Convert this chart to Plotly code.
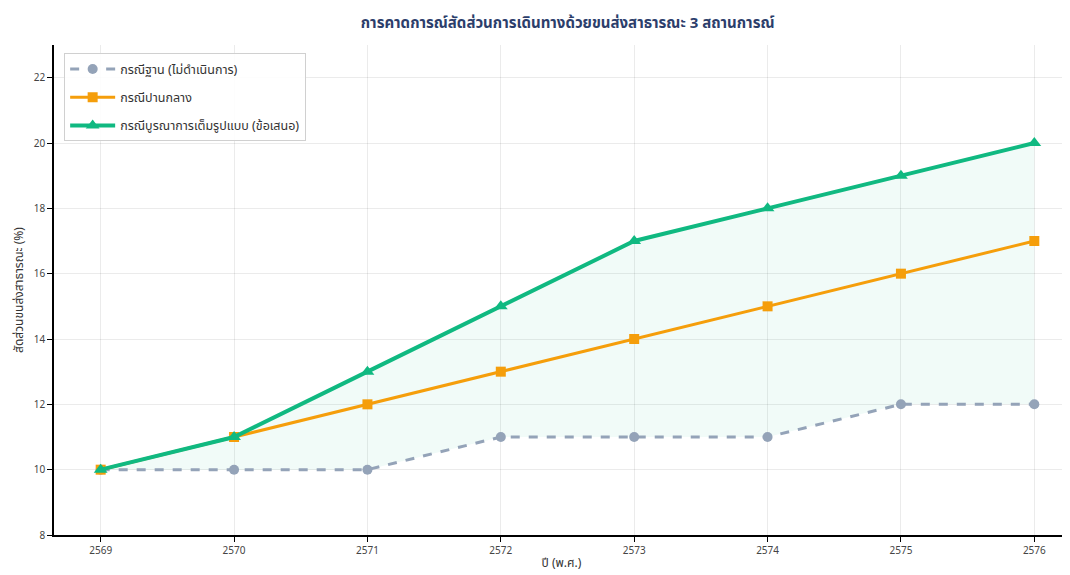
import plotly.graph_objects as go

years = [2569, 2570, 2571, 2572, 2573, 2574, 2575, 2576]
base = [10, 10, 10, 11, 11, 11, 12, 12]
medium = [10, 11, 12, 13, 14, 15, 16, 17]
full = [10, 11, 13, 15, 17, 18, 19, 20]
names = ["กรณีฐาน (ไม่ดำเนินการ)", "กรณีปานกลาง", "กรณีบูรณาการเต็มรูปแบบ (ข้อเสนอ)"]
title = "การคาดการณ์สัดส่วนการเดินทางด้วยขนส่งสาธารณะ 3 สถานการณ์"
ytitle = "สัดส่วนขนส่งสาธารณะ (%)"
xtitle = "ปี (พ.ศ.)"

FONT = "Noto Sans, Noto Sans Thai, DejaVu Sans, sans-serif"

fig = go.Figure()
# fill between base and full
fig.add_trace(go.Scatter(x=years, y=base, mode="lines", line=dict(width=0),
                         showlegend=False, hoverinfo="skip"))
fig.add_trace(go.Scatter(x=years, y=full, mode="lines", line=dict(width=0),
                         fill="tonexty", fillcolor="rgba(16,185,129,0.06)",
                         showlegend=False, hoverinfo="skip"))

fig.add_trace(go.Scatter(x=years, y=base, name=names[0], mode="lines+markers",
                         legendgroup="a",
                         line=dict(color="#94a3b8", width=3, dash="dash"),
                         marker=dict(symbol="circle", size=10, color="#94a3b8")))
fig.add_trace(go.Scatter(x=years, y=medium, name=names[1], mode="lines+markers",
                         legendgroup="b",
                         line=dict(color="#f59e0b", width=3),
                         marker=dict(symbol="square", size=10, color="#f59e0b")))
fig.add_trace(go.Scatter(x=years, y=full, name=names[2], mode="lines+markers",
                         legendgroup="c",
                         line=dict(color="#10b981", width=4),
                         marker=dict(symbol="triangle-up", size=12, color="#10b981")))

# page is rendered with an 8px body margin, so offsets account for it
fig.update_layout(
    width=1070, height=575,
    margin=dict(l=46, r=9, t=37, b=48, autoexpand=False),
    paper_bgcolor="white", plot_bgcolor="white",
    font=dict(family=FONT, size=11, color="#333"),
    title=dict(text=f"<b>{title}</b>", x=0.523, xanchor="center", y=0.975, yanchor="middle",
               font=dict(size=15, color="#2c3e6b")),
    legend=dict(x=0.01, y=0.983, xanchor="left", yanchor="top", traceorder="grouped",
                bgcolor="rgba(255,255,255,0.9)", bordercolor="#d0d0d0", borderwidth=1,
                font=dict(size=12.5, color="#333"), itemwidth=45, tracegroupgap=9),
    showlegend=True,
)
fig.update_xaxes(range=[2568.65, 2576.26], tickvals=years, ticktext=[str(y) for y in years],
                 showgrid=True, gridcolor="rgba(0,0,0,0.08)", showline=True, linecolor="black",
                 linewidth=1.5, ticks="outside", ticklen=5, tickcolor="black", automargin=False,
                 tickfont=dict(size=10, color="#444"), zeroline=False,
                 title=dict(text=xtitle, font=dict(size=12, color="#333"), standoff=3))
fig.update_yaxes(range=[8, 23], tickvals=[8, 10, 12, 14, 16, 18, 20, 22],
                 showgrid=True, gridcolor="rgba(0,0,0,0.08)", showline=True, linecolor="black",
                 linewidth=1.5, ticks="outside", ticklen=5, tickcolor="black", automargin=False,
                 tickfont=dict(size=10, color="#444"), zeroline=False,
                 title=dict(text=ytitle, font=dict(size=12, color="#333"), standoff=8))

fig.write_html("out.html")
